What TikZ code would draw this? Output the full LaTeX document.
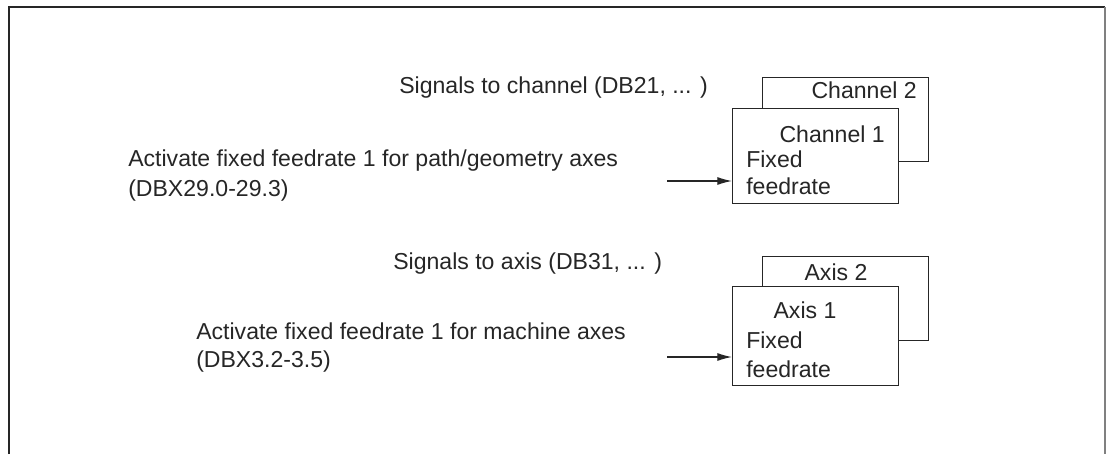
\documentclass[tikz,border=0pt]{standalone}
\usepackage{fontspec}
\setmainfont{Liberation Sans}
\usepackage{xcolor}
\usepackage{tikz}
\usetikzlibrary{arrows.meta, positioning}
\definecolor{ink}{HTML}{262626}

\begin{document}
\begin{tikzpicture}[x=0.75pt, y=-0.75pt,
    txt/.style={font=\fontsize{17.3}{20}\selectfont, text=ink, inner sep=0pt, anchor=base west},
    box/.style={draw=ink, line width=0.9pt, fill=white, inner sep=0pt, anchor=north west,
      minimum width=124.5pt},
    sig/.style={draw=ink, line width=0.9pt, -{Latex[length=11pt, width=6pt]}}]
  \useasboundingbox (0,0) rectangle (1106,454);

  % outer frame
  \draw[ink, line width=1.5pt] (9,454) -- (9,7) -- (1105,7);
  \draw[gray, line width=1pt] (1105,7) -- (1105,454);

  %---- channel signals ----
  \node[txt] (chsig) at (399,93) {Signals to channel (DB21, ... )};
  \node[box, minimum height=63pt] (ch2) at (762,77) {};
  \node[txt, anchor=base east] (ch2name) at (917,98) {Channel 2};
  \node[box, minimum height=71.25pt] (ch1) at (732,108) {};
  \node[txt, anchor=base east] (ch1name) at (885,142) {Channel 1};
  \node[txt] (ch1fix) at (746,167) {Fixed};
  \node[txt] (ch1feed) at (746,194) {feedrate};

  \node[txt] (chact) at (128,166) {Activate fixed feedrate 1 for path/geometry axes};
  \node[txt] (chbits) at (128,196) {(DBX29.0-29.3)};
  \coordinate (chin) at (667,181);
  \draw[sig] (chin) -- (chin -| ch1.west);

  %---- axis signals ----
  \node[txt] (axsig) at (393,269) {Signals to axis (DB31, ... )};
  \node[box, minimum height=63pt] (ax2) at (762,256) {};
  \node[txt, anchor=base] (ax2name) at (836,280) {Axis 2};
  \node[box, minimum height=74.25pt] (ax1) at (732,286) {};
  \node[txt, anchor=base] (ax1name) at (805,318) {Axis 1};
  \node[txt] (ax1fix) at (746,348) {Fixed};
  \node[txt] (ax1feed) at (746,377) {feedrate};

  \node[txt] (axact) at (196,339) {Activate fixed feedrate 1 for machine axes};
  \node[txt] (axbits) at (196,367) {(DBX3.2-3.5)};
  \coordinate (axin) at (667,357);
  \draw[sig] (axin) -- (axin -| ax1.west);
\end{tikzpicture}
\end{document}
